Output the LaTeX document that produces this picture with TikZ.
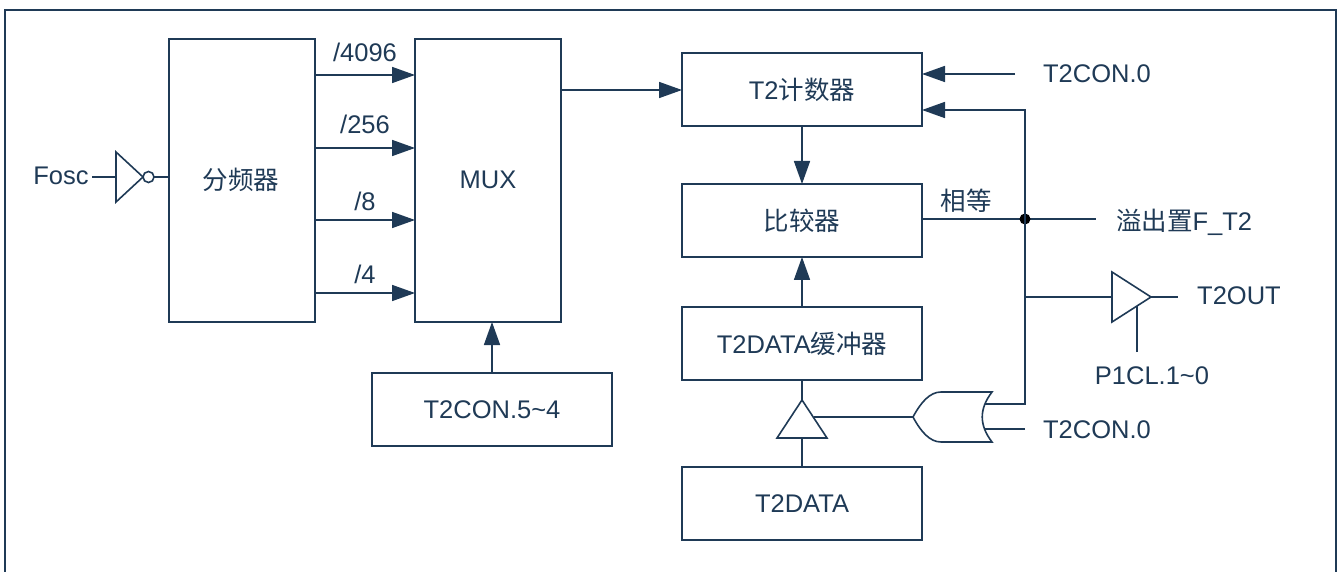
\documentclass[tikz,border=0pt]{standalone}
\usepackage{fontspec}
\setmainfont{Liberation Sans}
\newfontfamily\cjk{Noto Sans CJK SC}
\usetikzlibrary{arrows.meta,shapes.geometric}
\definecolor{navy}{HTML}{1F3A56}

\tikzset{
  every node/.style={text=navy,font=\fontsize{25.5}{30}\selectfont,inner sep=0pt,outer sep=0pt},
  every path/.style={color=navy,line width=1.6pt},
  box/.style={draw,rectangle,anchor=north west},
  wide/.style={box,minimum width=240pt,minimum height=73pt},
  tall/.style={box,minimum width=146pt,minimum height=283pt},
  arr/.style={-{Triangle[length=23pt,width=16pt]}},
  tri/.style={draw,isosceles triangle,isosceles triangle stretches,anchor=apex}
}

\begin{document}
\begin{tikzpicture}[x=1pt,y=-1pt]
      \useasboundingbox (0,0) rectangle (1342,572);
      \coordinate (Z0) at (5,572);
      \coordinate (Z1) at (5,10);
      \coordinate (Z2) at (1336,10);
      \coordinate (Z3) at (1336,572);
      \draw (Z0) -- (Z1) -- (Z2) -- (Z3);

      \node [tall] (D) at (169,39) {};
      \node at (241,180) (Dt) {\cjk 分频器};
      \node [tall] (M) at (415,39) {};
      \node at (488,180) (Mt) {MUX};
      \node [wide] (S) at (372,373) {T2CON.5\textasciitilde 4};
      \node [wide] (C) at (682,53) {T2{\cjk 计数器}};
      \node [wide] (K) at (682,184) {\cjk 比较器};
      \node [wide] (B) at (682,307) {T2DATA{\cjk 缓冲器}};
      \node [wide] (T) at (682,467) {T2DATA};

      % clock input
      \node (F) at (61,176) {Fosc};
      \coordinate (F1) at (92,177);
      \node [tri,minimum height=27pt,minimum width=50pt] (I) at (143,177) {};
      \node [draw,circle,minimum size=11pt] (N) at (148.5,177) {};
      \draw (F1) -- (I.lower side |- F1);
      \draw (N) -- (D.west |- N);

      % divider outputs
      \foreach \name/\yy/\ty/\txt in {a/75/52/4096,b/148/124/256,c/220/201/8,d/293/274/4} {
        \coordinate (\name0) at (315,\yy);
        \coordinate (\name1) at (415,\yy);
        \node at (365,\ty) (\name t) {/\txt};
        \draw [arr] (\name0) -- (\name1);
      }

      \coordinate (M1) at (561,90);
      \coordinate (C1) at (682,90);
      \coordinate (S1) at (492,373);
      \coordinate (M2) at (492,322);
      \draw [arr] (M1) -- (C1);
      \draw [arr] (S1) -- (M2);

      % centre column
      \coordinate (C2) at (802,126);
      \coordinate (K1) at (802,184);
      \coordinate (K2) at (802,257);
      \coordinate (B1) at (802,307);
      \coordinate (B2) at (802,380);
      \coordinate (T1) at (802,467);
      \draw [arr] (C2) -- (K1);
      \draw [arr] (B1) -- (K2);
      \node [tri,shape border rotate=90,minimum height=38pt,minimum width=50pt] (G) at (802,400) {};
      \draw (B2) -- (G.apex);
      \draw (T1) -- (G.lower side);

      % top right inputs
      \node (E0) at (1097,74) {T2CON.0};
      \coordinate (E1) at (1015,74);
      \coordinate (C3) at (922,74);
      \draw [arr] (E1) -- (C3);

      % equal line
      \coordinate (K3) at (922,219);
      \coordinate (J) at (1025,219);
      \coordinate (L) at (1096,219);
      \node (Eq) at (966,201) {\cjk 相等};
      \node (O) at (1184,222) {{\cjk 溢出置}F\_T2};
      \draw (K3) -- (L);
      \fill [black] (J) circle (5.5pt);

      % feedback and or gate
      \coordinate (Y) at (1025,110);
      \coordinate (C4) at (922,110);
      \coordinate (R1) at (985,404);
      \coordinate (R2) at (985,429);
      \coordinate (Q1) at (1025,404);
      \coordinate (Q2) at (1025,429);
      \coordinate (R0) at (913,417);
      \coordinate (G1) at (814,417);
      \draw [arr] (R1) -- (Q1) -- (Y) -- (C4);
      \draw (Q2) -- (R2);
      \draw (R0) -- (G1);
      \draw (R0) .. controls (921,402) and (930,392) .. (941,392) -- (992,392)
        .. controls (979,409) and (979,425) .. (992,442) -- (941,442)
        .. controls (930,442) and (921,432) .. (R0) -- cycle;
      \node (E2) at (1097,430) {T2CON.0};

      % output buffer
      \coordinate (J2) at (1025,297);
      \node [tri,minimum height=39pt,minimum width=50pt] (U) at (1151,297) {};
      \coordinate (U1) at (1178,297);
      \coordinate (U3) at (1137,306);
      \coordinate (P1) at (1137,352);
      \node (U2) at (1239,296) {T2OUT};
      \node (P) at (1152,376) {P1CL.1\textasciitilde 0};
      \draw (J2) -- (U.lower side |- J2);
      \draw (U.apex) -- (U1);
      \draw (P1) -- (U3);
\end{tikzpicture}
\end{document}
